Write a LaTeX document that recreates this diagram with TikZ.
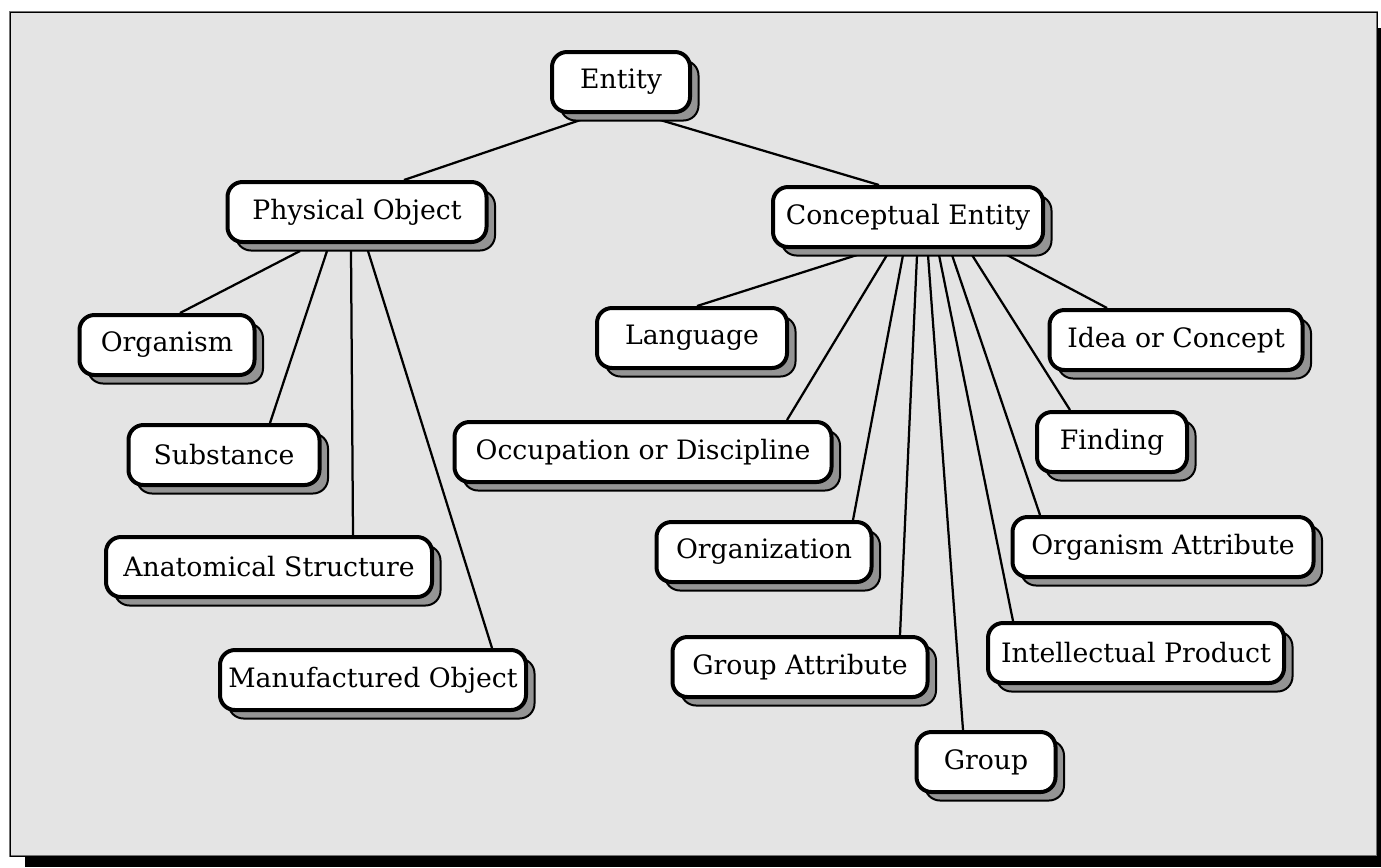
\documentclass[tikz,border=0pt]{standalone}
\usepackage{fontspec}
\setmainfont{DejaVu Serif}
\usepackage{tikz}
\usetikzlibrary{calc,shadows}
\definecolor{bgfill}{HTML}{E4E4E4}
\pgfdeclarelayer{fondo}
\pgfdeclarelayer{lineas}
\pgfsetlayers{fondo,lineas,main}

\begin{document}
\begin{tikzpicture}[x=0.02cm,y=-0.02cm,
    caja/.style={draw, fill=white, rounded corners=0.3cm, line width=0.08cm,
      minimum height=1.2cm, minimum width=#1*0.02cm, inner sep=0pt,
      font=\fontsize{15.2}{17}\selectfont,
      drop shadow={shadow xshift=0.17cm, shadow yshift=-0.17cm, opacity=1,
        fill=black!42, draw=black, line width=0.04cm}},
    link/.style={line width=0.045cm}]
      \useasboundingbox (0,0) rectangle (1381,867);
      %marco
      \begin{pgfonlayer}{fondo}
      \fill[black] (25,28) rectangle (1381,867);
      \draw[fill=bgfill, draw=black!55, line width=0.05cm] (10,12) rectangle (1377,856);
      \draw[black, line width=0.02cm] (10,12) rectangle (1377,856);
      \end{pgfonlayer}

      %raiz
      \node[caja=138] (ent) at (621,82) {Entity};
      \node[caja=259] (po) at (357,212) {Physical Object};
      \node[caja=270] (ce) at (908,217) {Conceptual Entity};

      %rama izquierda
      \node[caja=175] (org) at (167,345) {Organism};
      \node[caja=191] (sub) at (224,455) {Substance};
      \node[caja=326] (ana) at (269,567) {Anatomical Structure};
      \node[caja=306] (man) at (373,680) {Manufactured Object};

      %rama derecha
      \node[caja=190] (lang) at (692,338) {Language};
      \node[caja=253] (idea) at (1176,340) {Idea or Concept};
      \node[caja=377] (occ) at (643,452) {Occupation or Discipline};
      \node[caja=150] (find) at (1112,442) {Finding};
      \node[caja=215] (orgn) at (764,552) {Organization};
      \node[caja=301] (oatt) at (1163,547) {Organism Attribute};
      \node[caja=255] (gatt) at (800,667) {Group Attribute};
      \node[caja=296] (ip) at (1136,653) {Intellectual Product};
      \node[caja=139] (grp) at (986,762) {Group};

      %lineas
      \begin{pgfonlayer}{lineas}
      \draw[link] ($(ent.south)+(-23,0)$) -- ($(po.north)+(47,0)$);
      \draw[link] ($(ent.south)+(19,0)$) -- ($(ce.north)+(-29,0)$);
      \foreach \n/\a/\b in {org/-57/13, sub/-30/46, ana/-6/84, man/11/119}
        \draw[link] ($(po.south)+(\a,7)$) -- ($(\n.north)+(\b,0)$);
      \foreach \n/\a/\b in {lang/-51/5, occ/-21/144, orgn/-5/89, gatt/9/100,
          grp/20/-23, ip/31/-123, oatt/44/-123, find/64/-42, idea/99/-69}
        \draw[link] ($(ce.south)+(\a,6)$) -- ($(\n.north)+(\b,0)$);
      \end{pgfonlayer}
  \end{tikzpicture}
\end{document}
